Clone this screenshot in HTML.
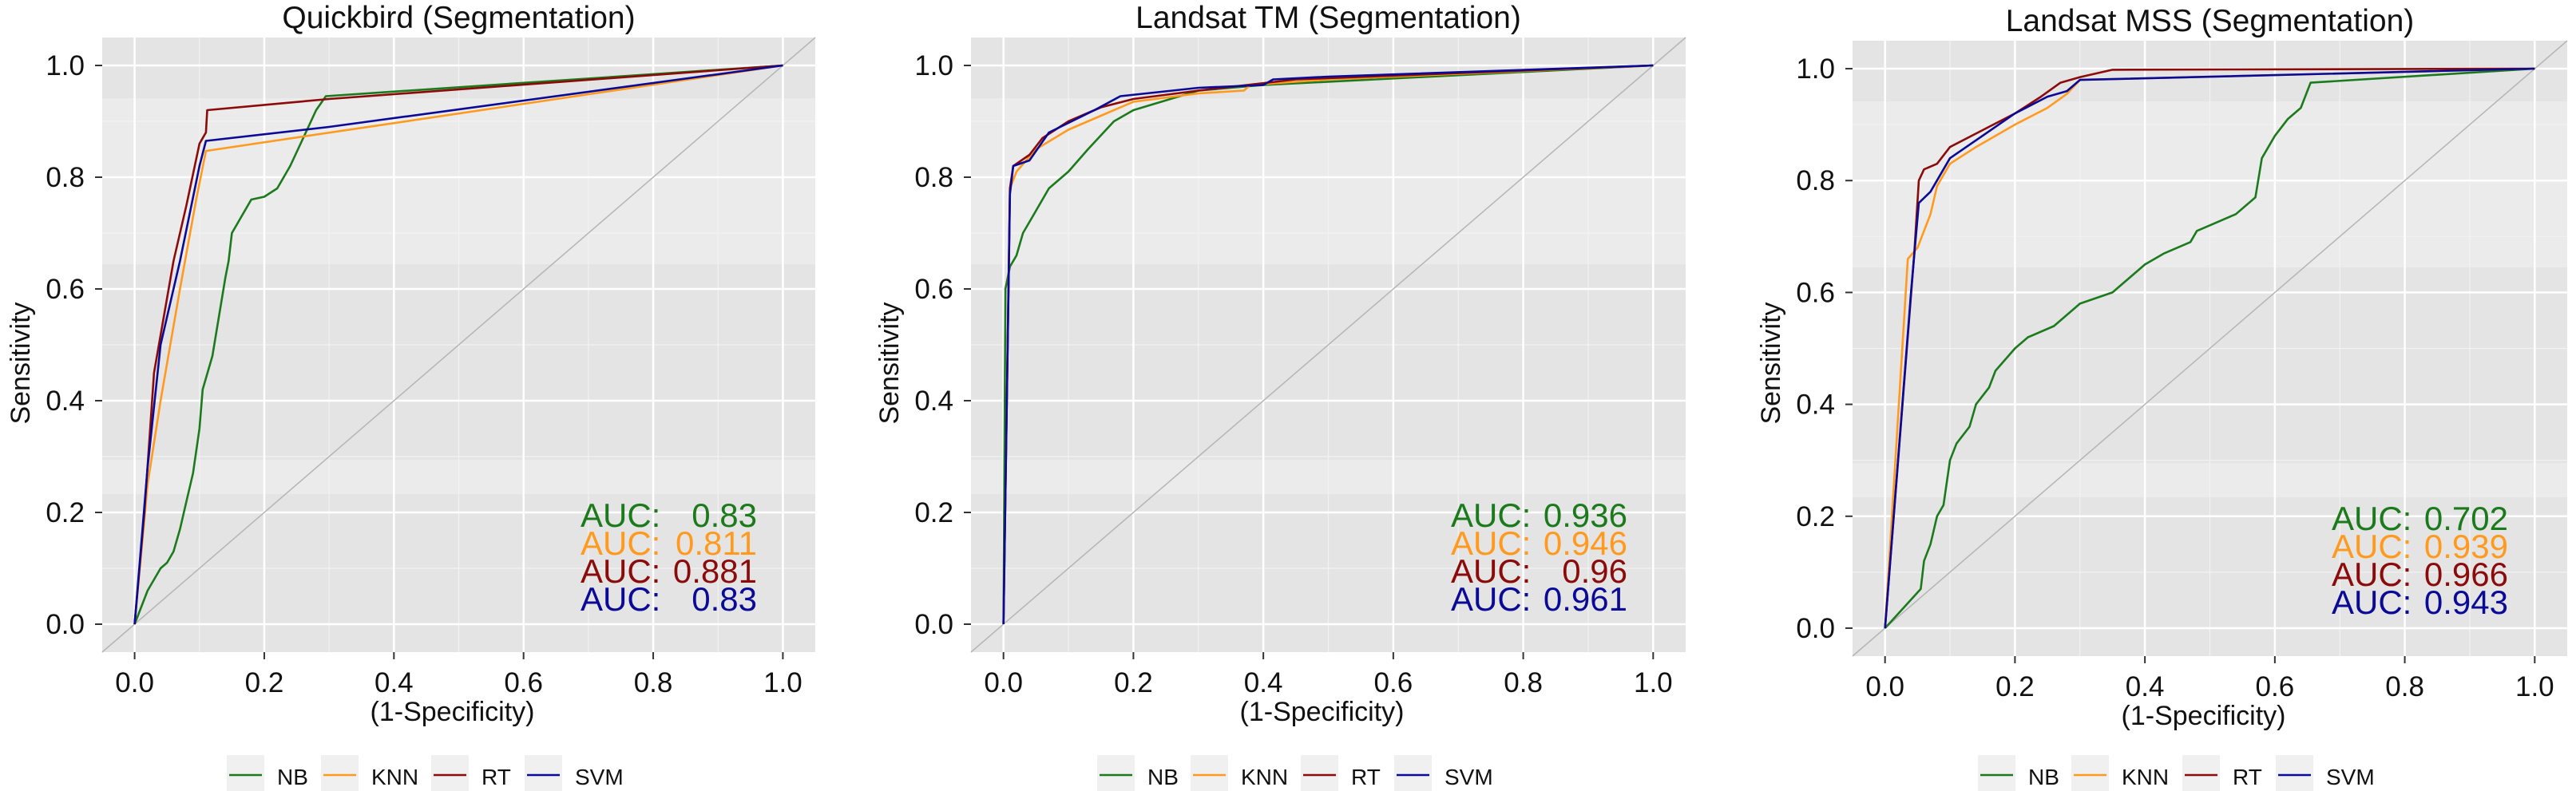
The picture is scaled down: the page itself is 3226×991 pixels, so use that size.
<!DOCTYPE html>
<html><head><meta charset="utf-8"><style>
html,body{margin:0;padding:0;background:#fff;}
svg{display:block;font-family:"Liberation Sans",Arial,sans-serif;}
</style></head><body>
<svg id="chart" width="3226" height="991" viewBox="0 0 3226 991" xmlns="http://www.w3.org/2000/svg"></svg>
<script>
// ---- data ----
const xTicks = [0, 0.2, 0.4, 0.6, 0.8, 1.0];
const yTicks = [0, 0.2, 0.4, 0.6, 0.8, 1.0];
const tickLabels = ["0.0","0.2","0.4","0.6","0.8","1.0"];
const seriesNames = ["NB","KNN","RT","SVM"];
const titles = ["Quickbird (Segmentation)","Landsat TM (Segmentation)","Landsat MSS (Segmentation)"];

const qbNB = [[0,0],[0.02,0.06],[0.04,0.1],[0.05,0.11],[0.06,0.13],[0.07,0.17],[0.08,0.22],[0.09,0.27],[0.1,0.35],[0.105,0.42],[0.12,0.48],[0.13,0.55],[0.14,0.62],[0.145,0.65],[0.15,0.7],[0.16,0.72],[0.18,0.76],[0.2,0.765],[0.22,0.78],[0.24,0.82],[0.26,0.87],[0.28,0.92],[0.295,0.945],[1,1]];
const qbKNN = [[0,0],[0.02,0.25],[0.04,0.4],[0.07,0.6],[0.095,0.76],[0.11,0.847],[1,1]];
const qbRT = [[0,0],[0.015,0.2],[0.03,0.45],[0.06,0.65],[0.08,0.75],[0.1,0.86],[0.11,0.88],[0.112,0.92],[0.3,0.94],[1,1]];
const qbSVM = [[0,0],[0.02,0.28],[0.04,0.5],[0.07,0.65],[0.1,0.82],[0.11,0.865],[0.3,0.89],[1,1]];

const tmNB = [[0,0],[0.003,0.6],[0.01,0.64],[0.02,0.66],[0.03,0.7],[0.05,0.74],[0.07,0.78],[0.1,0.81],[0.13,0.85],[0.17,0.9],[0.2,0.92],[0.3,0.955],[0.4,0.965],[1,1]];
const tmKNN = [[0,0],[0.01,0.78],[0.02,0.81],[0.05,0.85],[0.1,0.885],[0.15,0.91],[0.2,0.935],[0.3,0.95],[0.37,0.955],[0.38,0.965],[0.5,0.975],[1,1]];
const tmRT = [[0,0],[0.01,0.78],[0.015,0.82],[0.04,0.84],[0.06,0.87],[0.1,0.9],[0.15,0.925],[0.2,0.94],[0.3,0.955],[0.45,0.975],[1,1]];
const tmSVM = [[0,0],[0.01,0.77],[0.015,0.82],[0.04,0.83],[0.07,0.88],[0.14,0.92],[0.18,0.945],[0.3,0.96],[0.4,0.965],[0.415,0.975],[0.5,0.98],[1,1]];

const mssNB = [[0,0],[0.055,0.07],[0.06,0.12],[0.07,0.15],[0.08,0.2],[0.09,0.22],[0.1,0.3],[0.11,0.33],[0.13,0.36],[0.14,0.4],[0.16,0.43],[0.17,0.46],[0.2,0.5],[0.22,0.52],[0.26,0.54],[0.3,0.58],[0.35,0.6],[0.36,0.61],[0.4,0.65],[0.43,0.67],[0.47,0.69],[0.48,0.71],[0.5,0.72],[0.54,0.74],[0.56,0.76],[0.57,0.77],[0.58,0.84],[0.6,0.88],[0.62,0.91],[0.64,0.93],[0.655,0.975],[1,1]];
const mssKNN = [[0,0],[0.035,0.66],[0.05,0.68],[0.07,0.74],[0.08,0.79],[0.1,0.83],[0.14,0.86],[0.2,0.9],[0.25,0.93],[0.28,0.955],[0.3,0.98],[1,1]];
const mssRT = [[0,0],[0.045,0.67],[0.052,0.8],[0.06,0.82],[0.08,0.83],[0.1,0.86],[0.15,0.89],[0.2,0.92],[0.24,0.95],[0.27,0.975],[0.3,0.985],[0.35,0.998],[1,1]];
const mssSVM = [[0,0],[0.04,0.6],[0.052,0.76],[0.07,0.78],[0.1,0.84],[0.15,0.88],[0.2,0.92],[0.25,0.95],[0.28,0.96],[0.3,0.98],[1,1]];

const qbAUC = ["0.83","0.811","0.881","0.83"];
const tmAUC = ["0.936","0.946","0.96","0.961"];
const mssAUC = ["0.702","0.939","0.966","0.943"];

// ---- layout / style ----
const colors = ["#1b7a1b","#ff9a1f","#8b0a0a","#0a0a96"];
const panels = [
  {key:"quickbird", l:128, t:47, w:893, h:770, yl:25, auc:727, leg:[284,402,540,657], series:[qbNB,qbKNN,qbRT,qbSVM], aucs:qbAUC},
  {key:"landsat-tm", l:1216, t:47, w:895, h:770, yl:1113, auc:1817, leg:[1374,1491,1629,1746], series:[tmNB,tmKNN,tmRT,tmSVM], aucs:tmAUC},
  {key:"landsat-mss", l:2320, t:51, w:895, h:771, yl:2217, auc:2920, leg:[2477,2594,2733,2850], series:[mssNB,mssKNN,mssRT,mssSVM], aucs:mssAUC}
];
const dmin=-0.05, dmax=1.05;
const svg=document.getElementById('chart');
const NS="http://www.w3.org/2000/svg";
function mk(tag,attrs,parent){const e=document.createElementNS(NS,tag);for(const k in attrs)e.setAttribute(k,attrs[k]);(parent||svg).appendChild(e);return e;}

panels.forEach((p,pi)=>{
  const g=mk('g',{});
  
  
  const sx=v=>p.l+(v-dmin)/(dmax-dmin)*p.w;
  const sy=v=>p.t+p.h-(v-dmin)/(dmax-dmin)*p.h;
  const bg=mk('rect',{x:p.l,y:p.t,width:p.w,height:p.h,fill:"#e4e4e4"},g);
  
  
  [[76,160],[200,84],[529,43]].forEach(b=>{
    const r=mk('rect',{x:p.l,y:p.t+b[0],width:p.w,height:b[1],fill:"#ebebeb"},g);
    
    
  });
  [0.1,0.3,0.5,0.7,0.9].forEach(v=>{
    const a=mk('line',{x1:sx(v),x2:sx(v),y1:p.t,y2:p.t+p.h,stroke:"#f2f2f2","stroke-width":1.2},g);
    
    
    const b=mk('line',{x1:p.l,x2:p.l+p.w,y1:sy(v),y2:sy(v),stroke:"#f2f2f2","stroke-width":1.2},g);
    
    
  });
  xTicks.forEach((v,i)=>{
    const a=mk('line',{x1:sx(v),x2:sx(v),y1:p.t,y2:p.t+p.h,stroke:"#fff","stroke-width":2.5},g);
    
    
    const tk=mk('line',{x1:sx(v),x2:sx(v),y1:p.t+p.h,y2:p.t+p.h+9,stroke:"#333","stroke-width":2},g);
    
    
    const t=mk('text',{x:sx(v),y:p.t+p.h+50,"font-size":35,"text-anchor":"middle",fill:"#111"},g);
    t.textContent=tickLabels[i];
    
    
  });
  yTicks.forEach((v,i)=>{
    const a=mk('line',{x1:p.l,x2:p.l+p.w,y1:sy(v),y2:sy(v),stroke:"#fff","stroke-width":2.5},g);
    
    
    const tk=mk('line',{x1:p.l-9,x2:p.l,y1:sy(v),y2:sy(v),stroke:"#333","stroke-width":2},g);
    
    
    const t=mk('text',{x:p.l-22,y:sy(v)+12,"font-size":35,"text-anchor":"end",fill:"#111"},g);
    t.textContent=tickLabels[i];
    
    
  });
  const d=mk('line',{x1:sx(dmin),y1:sy(dmin),x2:sx(dmax),y2:sy(dmax),stroke:"#b5b5b5","stroke-width":1.5},g);
  
  
  p.series.forEach((s,si)=>{
    const pts=s.map(q=>sx(q[0]).toFixed(1)+","+sy(q[1]).toFixed(1)).join(" ");
    const pl=mk('polyline',{points:pts,fill:"none",stroke:colors[si],"stroke-width":2.6,"stroke-linejoin":"round"},g);
    
    
  });
  p.aucs.forEach((a,ai)=>{
    const yy=p.t+613+ai*35;
    const t=mk('text',{x:p.auc,y:yy,"font-size":42,fill:colors[ai]},g);
    t.textContent="AUC:";
    
    
    const v=mk('text',{x:p.auc+221,y:yy,"font-size":42,fill:colors[ai],"text-anchor":"end"},g);
    v.textContent=a;
    
    
  });
  const tt=mk('text',{x:p.l+p.w/2,y:p.t-12,"font-size":39,"text-anchor":"middle",fill:"#111"},g);
  tt.textContent=titles[pi];
  
  
  const xt=mk('text',{x:p.l+p.w/2-8,y:p.t+p.h+86,"font-size":34,"text-anchor":"middle",fill:"#111"},g);
  xt.textContent="(1-Specificity)";
  
  
  const yt=mk('text',{x:0,y:0,"font-size":34,"text-anchor":"middle",fill:"#111",transform:`translate(${p.yl+12},455) rotate(-90)`},g);
  yt.textContent="Sensitivity";
  
  
  seriesNames.forEach((n,ni)=>{
    const lx=p.leg[ni];
    const kb=mk('rect',{x:lx,y:946,width:47,height:45,fill:"#f0f0f0"},g);
    
    
    const kl=mk('line',{x1:lx+3,x2:lx+44,y1:971,y2:971,stroke:colors[ni],"stroke-width":2.6},g);
    
    
    const lt=mk('text',{x:lx+63,y:983,"font-size":28,fill:"#111"},g);
    lt.textContent=n;
    
    
  });
});
</script>
</body></html>
